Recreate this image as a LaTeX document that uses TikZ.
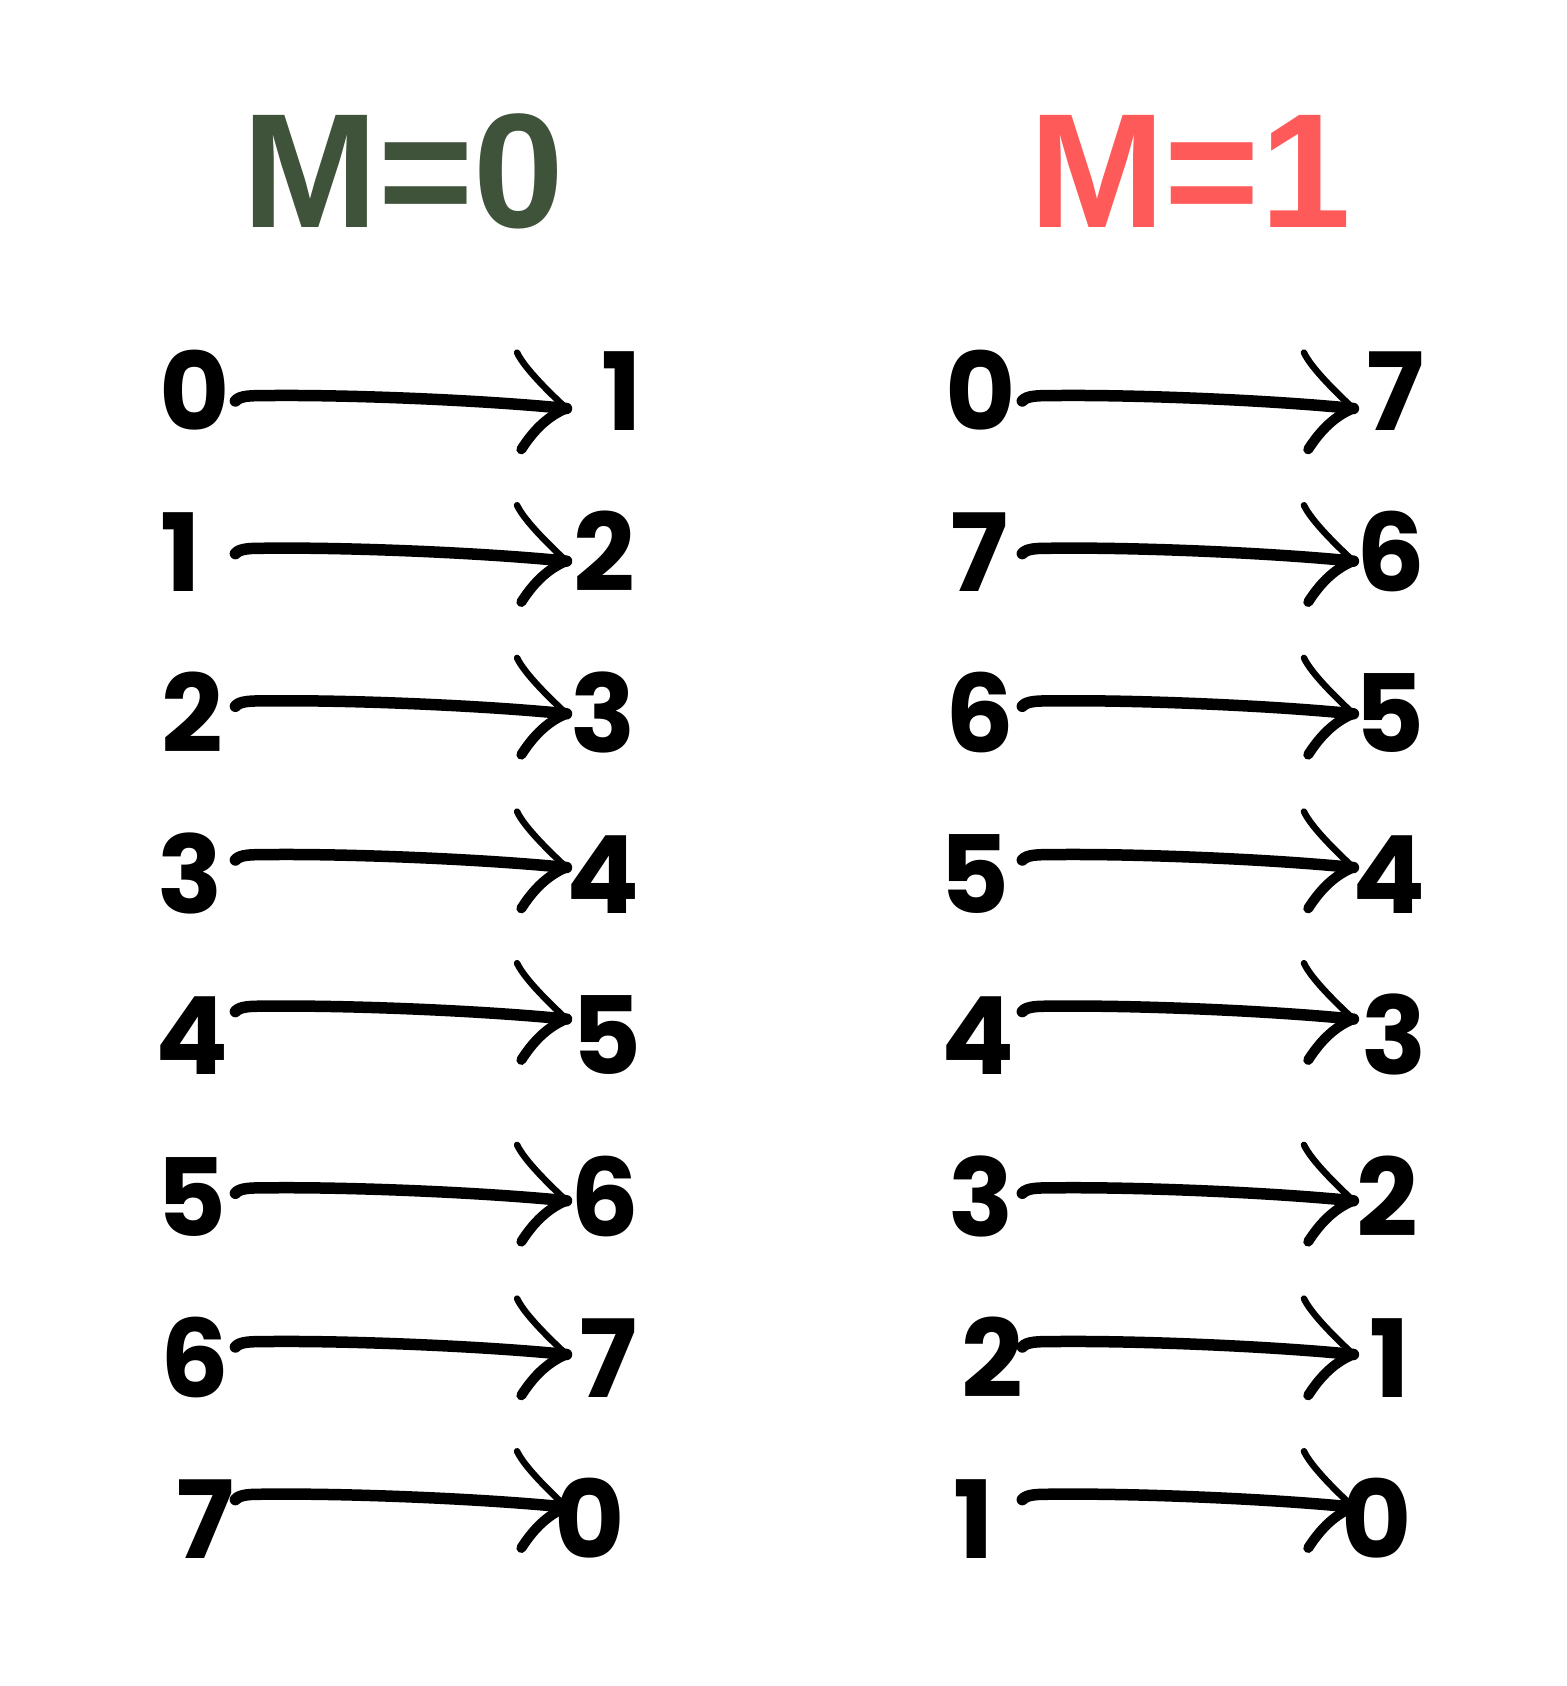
\documentclass[tikz,border=0pt]{standalone}
\usepackage{fontspec}
\setmainfont{Liberation Sans}
\newfontfamily\digitfont{Poppins}[BoldFont=* Bold]
\begin{document}
\begin{tikzpicture}[x=1.075pt,y=-1.075pt,
  titleA/.style={font=\fontsize{163}{163}\selectfont\bfseries, text=titlegreen, inner sep=0pt, anchor=base},
  titleB/.style={font=\fontsize{163}{163}\selectfont\bfseries, text=titlered, inner sep=0pt, anchor=base},
  num/.style={font=\digitfont\fontsize{108}{108}\selectfont\bfseries, inner sep=0pt, anchor=base},
  shaft/.style={line width=11.5pt, line cap=round, line join=round},
  upstroke/.style={line width=6.5pt, line cap=round},
  lowstroke/.style={line width=10pt, line cap=round}]
\definecolor{titlegreen}{HTML}{3F523A}
\definecolor{titlered}{HTML}{FF5A5A}
\useasboundingbox (0,0) rectangle (1457.7,1568.4);
\fill[white] (0,0) rectangle (1457.7,1568.4);
\node[titleA] (t0) at (375,212) {M=0};
\node[titleB] (t1) at (1107,212) {M=1};
% left column
\foreach \k/\a/\ax/\b/\bx/\ty in {0/0/181/1/578/380, 1/1/168/2/562/522, 2/2/179/3/561/664, 3/3/177/4/561/807, 4/4/179/5/564/948, 5/5/178/6/563/1117, 6/6/181/7/566/1260, 7/7/191/0/549/1402}{
  \node[num] (La\k) at (\ax,400+150*\k) {\a};
  \node[num] (Lb\k) at (\bx,400+150*\k) {\b};
  \coordinate (Ls\k) at (219,\ty-7);
  \coordinate (Lt\k) at (527,\ty);
  \draw[shaft] (Ls\k) .. controls +(4,-5) and +(-12,0) .. ++(27,-5) .. controls +(75,-1) and +(-80,-8) .. (Lt\k);
  \draw[upstroke] (Lt\k) .. controls +(-14,-13) and +(7,15) .. ++(-46,-52);
  \draw[lowstroke] (Lt\k) .. controls +(-20,8) and +(9,-14) .. ++(-42,38);
}
% right column
\foreach \k/\a/\ax/\b/\bx/\ty in {0/0/912/7/1298/380, 1/7/911/6/1294/522, 2/6/912/5/1293/664, 3/5/907/4/1292/807, 4/4/910/3/1297/948, 5/3/913/2/1291/1117, 6/2/923/1/1293/1260, 7/1/906/0/1281/1402}{
  \node[num] (Ra\k) at (\ax,400+150*\k) {\a};
  \node[num] (Rb\k) at (\bx,400+150*\k) {\b};
  \coordinate (Rs\k) at (951,\ty-7);
  \coordinate (Rt\k) at (1259,\ty);
  \draw[shaft] (Rs\k) .. controls +(4,-5) and +(-12,0) .. ++(27,-5) .. controls +(75,-1) and +(-80,-8) .. (Rt\k);
  \draw[upstroke] (Rt\k) .. controls +(-14,-13) and +(7,15) .. ++(-46,-52);
  \draw[lowstroke] (Rt\k) .. controls +(-20,8) and +(9,-14) .. ++(-42,38);
}
\end{tikzpicture}
\end{document}
